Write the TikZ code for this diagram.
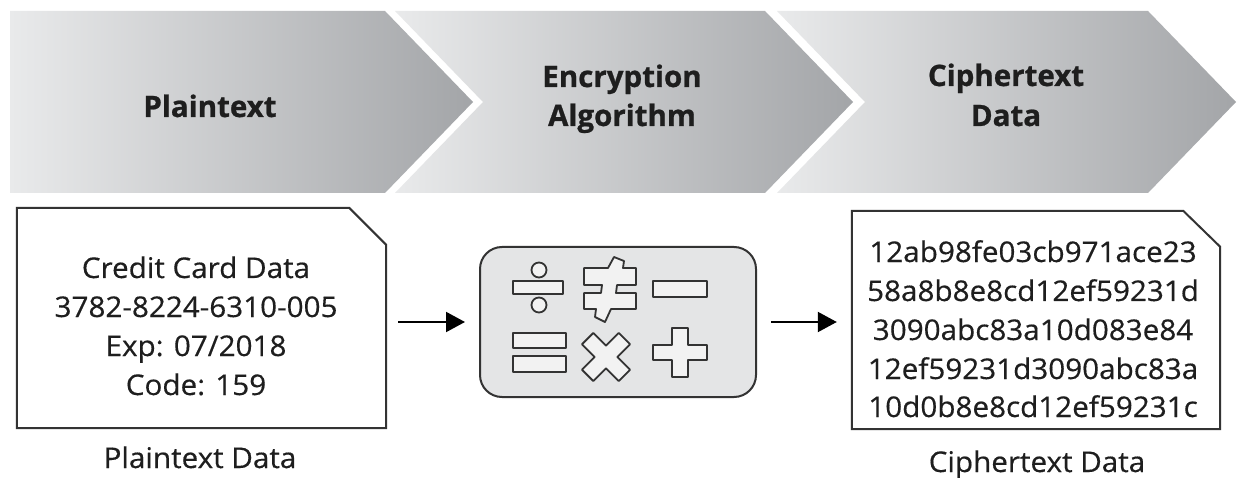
\documentclass[tikz,border=0pt]{standalone}
\usepackage{fontspec}
\setmainfont{Open Sans}
\newfontfamily\bodyfont[FakeStretch=1.04,FakeBold=0.4]{Open Sans}
\newfontfamily\headfont[FakeBold=0.8]{Open Sans}
\usetikzlibrary{arrows.meta,calc}
\definecolor{chevL}{HTML}{E9EAEB}
\definecolor{chevR}{HTML}{A3A5A8}
\definecolor{boxfill}{HTML}{E4E5E6}
\definecolor{symfill}{HTML}{F2F2F2}
\definecolor{ink}{HTML}{333333}
\definecolor{txt}{HTML}{1E1E1E}
\begin{document}
\begin{tikzpicture}[x=1pt,y=-1pt,
  chevron/.style={left color=chevL,right color=chevR,draw=none},
  headtext/.style={font=\headfont\bfseries\fontsize{29.5}{38}\selectfont,text=txt,anchor=base,inner sep=0pt},
  bodytext/.style={font=\bodyfont\fontsize{28.5}{38}\selectfont,text=txt,anchor=base,inner sep=0pt},
  boxline/.style={draw=ink,line width=2pt,line join=miter},
  sym/.style={fill=symfill,draw=ink,line width=1.8pt,line join=round},
  flow/.style={draw=black,line width=2pt,-{Triangle[length=19pt,width=20pt]}}
]
\useasboundingbox (0,0) rectangle (1239,478);
\fill[white] (0,0) rectangle (1239,478);

% chevrons
\shade[chevron] (10,11) -- (385,11) -- (473,102) -- (385,193) -- (10,193) -- cycle;
\shade[chevron] (395,11) -- (765,11) -- (853,102) -- (765,193) -- (395,193) -- (483,102) -- cycle;
\shade[chevron] (777,11) -- (1148,11) -- (1236,102) -- (1148,193) -- (777,193) -- (865,102) -- cycle;

\node[headtext] (h1) at (210,117) {Plaintext};
\node[headtext] (h2a) at (622,87) {Encryption};
\node[headtext] (h2b) at (622,126) {Algorithm};
\node[headtext] (h3a) at (1006,86) {Ciphertext};
\node[headtext] (h3b) at (1006,126) {Data};

% plaintext box
\node[minimum width=369,minimum height=220,inner sep=0pt] (pbox) at (201.5,318) {};
\draw[boxline] (pbox.south west) -- (pbox.north west) -- ([xshift=-37pt]pbox.north east)
  -- ([yshift=-37pt]pbox.north east) -- (pbox.south east) -- cycle;
\node[bodytext] (p1) at (196,278) {Credit Card Data};
\node[bodytext] (p2) at (196,317) {3782-8224-6310-005};
\node[bodytext] (p3) at (196,356) {Exp: 07/2018};
\node[bodytext] (p4) at (196,395) {Code: 159};
\node[bodytext] (plabel) at (200,468) {Plaintext Data};

% algorithm box
\node[draw=ink,fill=boxfill,rounded corners=22pt,line width=2pt,minimum width=276,minimum height=150,inner sep=0pt] (algo) at (618,322) {};
% divide
\draw[sym] (513,281) rectangle (563,294);
\draw[sym] (539,270) circle[radius=7.5];
\draw[sym] (539,305) circle[radius=7.5];
% not equal
\draw[sym] (614,257) -- (624,261) -- (623,268) -- (636,268) -- (636,285) -- (617,285) -- (616,293)
  -- (636,293) -- (636,309) -- (611,309) -- (605,322) -- (595,317) -- (596,309) -- (584,309)
  -- (584,293) -- (601,293) -- (602,285) -- (584,285) -- (584,268) -- (608,268) -- cycle;
% minus
\draw[sym] (653,281) rectangle (707,297);
% equals
\draw[sym] (513,333) rectangle (566,348);
\draw[sym] (513,356) rectangle (566,372);
% times
\begin{scope}[shift={(606,357)},rotate=45]
\draw[sym] (-8,-26) -- (8,-26) -- (8,-8) -- (26,-8) -- (26,8) -- (8,8) -- (8,26) -- (-8,26)
  -- (-8,8) -- (-26,8) -- (-26,-8) -- (-8,-8) -- cycle;
\end{scope}
% plus
\draw[sym] (672,328) -- (688,328) -- (688,345) -- (707,345) -- (707,360) -- (688,360) -- (688,377)
  -- (672,377) -- (672,360) -- (653,360) -- (653,345) -- (672,345) -- cycle;

% ciphertext box
\node[minimum width=368,minimum height=218,inner sep=0pt] (cbox) at (1036,320) {};
\draw[boxline] (cbox.south west) -- (cbox.north west) -- ([xshift=-37pt]cbox.north east)
  -- ([yshift=-36pt]cbox.north east) -- (cbox.south east) -- cycle;
\node[bodytext] (c1) at (1033,262) {12ab98fe03cb971ace23};
\node[bodytext] (c2) at (1033,301) {58a8b8e8cd12ef59231d};
\node[bodytext] (c3) at (1033,340) {3090abc83a10d083e84};
\node[bodytext] (c4) at (1033,379) {12ef59231d3090abc83a};
\node[bodytext] (c5) at (1033,417) {10d0b8e8cd12ef59231c};
\node[bodytext] (clabel) at (1037,472) {Ciphertext Data};

% connectors
\draw[flow,shorten <=12pt,shorten >=14pt] (pbox.east |- algo.west) -- (algo.west);
\draw[flow,shorten <=14pt,shorten >=15pt] (algo.east) -- (cbox.west |- algo.east);
\end{tikzpicture}
\end{document}
